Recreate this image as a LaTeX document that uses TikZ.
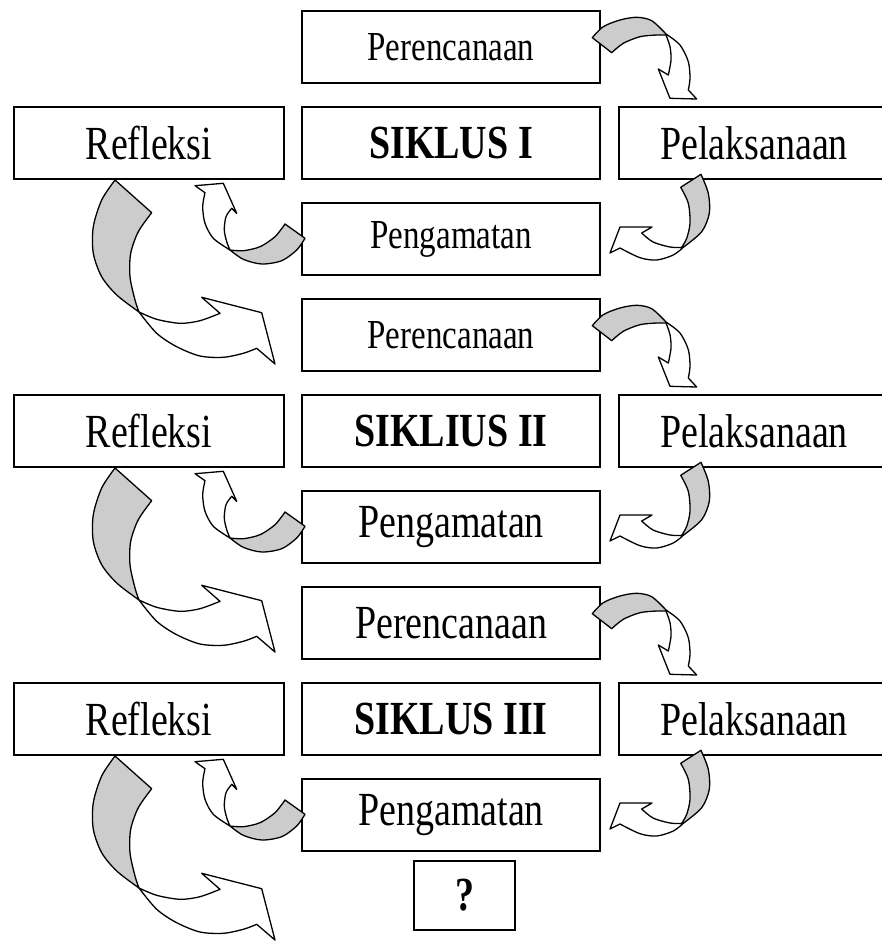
\documentclass[tikz,border=0pt]{standalone}
\usepackage{fontspec}
\setmainfont{Liberation Serif}
\usetikzlibrary{positioning}

\newcommand{\tall}[1]{\scalebox{1}[1.25]{#1}}

\tikzset{
  box/.style={draw, line width=1.6pt, outer sep=0pt, inner sep=0pt,
    minimum width=298pt, minimum height=72pt, font=\fontsize{38}{40}\selectfont},
  sidebox/.style={box, minimum width=270pt},
  smalltxt/.style={font=\fontsize{33}{35}\selectfont},
  back/.style={draw, line width=1.3pt, line join=round, fill=gray!40},
  front/.style={draw, line width=1.3pt, line join=round, fill=white},
}

% curved arrows, drawn round a node anchor
\newcommand{\arrowPerPel}{%
  \path[back] plot[smooth] coordinates {(-7.7,-9.3) (3.3,-20.3) (20,-27) (36.7,-29.7) (51.7,-26.3) (66,-13)}
    -- plot[smooth] coordinates {(66,-12) (56.7,-12) (40,-10.3) (23.3,-3.7) (11.7,5.7)} -- cycle;
  \path[front] plot[smooth] coordinates {(66,-13) (80,-2) (88.3,14.7) (90,31.3) (88.3,43)}
    -- (96.7,52) -- (70,51.3) -- (58.3,22)
    -- plot[smooth] coordinates {(68.3,28) (71,13) (70,-0.3) (66,-12)} -- cycle;
}
\newcommand{\arrowPelPen}{%
  \path[back] (61.7,8.3) -- plot[smooth] coordinates {(82,-4.7) (89.3,14.3) (90.3,34.3) (82.7,52.7) (64.3,68.3)}
    -- plot[smooth] coordinates {(62.7,68.3) (67.7,59.3) (71,44.3) (69.3,24.3) (61.7,8.3)} -- cycle;
  \path[front] plot[smooth] coordinates {(64.3,68.3) (54.3,76) (37.7,81) (21,78.7) (1,69)}
    -- (-9,74) -- (1,48) -- (33,48)
    -- plot[smooth] coordinates {(22.7,54) (34,63) (51,68) (63,68.5)} -- cycle;
}
\newcommand{\arrowPenRef}{%
  \path[back] plot[smooth] coordinates {(3,-0.7) (-5.3,11) (-20.3,21.7) (-40.3,25) (-58.7,20.3) (-72,11)}
    -- plot[smooth] coordinates {(-72,11) (-58.7,11.7) (-42,7.7) (-27,-2.3) (-17,-15)} -- cycle;
  \path[front] plot[smooth] coordinates {(-72,11) (-88.7,-0.7) (-97,-15.7) (-99.3,-32.3) (-97,-46.3)}
    -- (-107,-53.3) -- (-78.7,-55.7) -- (-65.3,-25.7)
    -- plot[smooth] coordinates {(-70.3,-30.7) (-76,-22.3) (-77.7,-9) (-75.3,2.7) (-72,11)} -- cycle;
}
\newcommand{\arrowRefPer}{%
  \path[back] plot[smooth] coordinates {(-34,1) (-47.3,21) (-55.7,47.7) (-55.7,74.3) (-47.3,97.7) (-32.3,116) (-10,133)}
    -- plot[smooth] coordinates {(-10,133) (-14,121) (-19,97.7) (-18.3,74.3) (-10.7,52.7) (2.7,33.7)} -- cycle;
  \path[front] plot[smooth] coordinates {(-10,133) (7.7,154.3) (27.7,167.7) (51,177) (74.3,178.3) (94.3,174.3) (107.7,169.3)}
    -- (126,185) -- (112.7,133.7) -- (52.7,118.3)
    -- plot[smooth] coordinates {(71,134.3) (51,141.7) (31,144.3) (7.7,140.3) (-10,133)} -- cycle;
}

\begin{document}
\begin{tikzpicture}[x=1pt, y=-1pt]
    \useasboundingbox (0,0) rectangle (881,942);
    \node[box] (sik1) at (451,143) {\tall{\textbf{SIKLUS I}}};
    \node[box, smalltxt, above=24pt of sik1] (per1) {\tall{Perencanaan}};
    \node[sidebox, left=18pt of sik1] (ref1) {\tall{Refleksi}};
    \node[sidebox, right=19pt of sik1] (pel1) {\tall{Pelaksanaan}};
    \node[box, smalltxt, below=24pt of sik1] (pen1) {\tall{Pengamatan}};
    \node[box, smalltxt, below=24pt of pen1] (per2) {\tall{Perencanaan}};
    \node[box, below=24pt of per2] (sik2) {\tall{\textbf{SIKLIUS II}}};
    \node[sidebox, left=18pt of sik2] (ref2) {\tall{Refleksi}};
    \node[sidebox, right=19pt of sik2] (pel2) {\tall{Pelaksanaan}};
    \node[box, below=24pt of sik2] (pen2) {\tall{Pengamatan}};
    \node[box, below=24pt of pen2] (per3) {\tall{Perencanaan}};
    \node[box, below=24pt of per3] (sik3) {\tall{\textbf{SIKLUS III}}};
    \node[sidebox, left=18pt of sik3] (ref3) {\tall{Refleksi}};
    \node[sidebox, right=19pt of sik3] (pel3) {\tall{Pelaksanaan}};
    \node[box, below=24pt of sik3] (pen3) {\tall{Pengamatan}};
    \node[box, minimum width=101pt, minimum height=69pt,
      below=10pt of pen3, xshift=13.5pt] (ask) {\tall{\textbf{?}}};
    \foreach \c in {1,2,3} {
      \begin{scope}[shift={(per\c.east)}] \arrowPerPel \end{scope}
      \begin{scope}[shift={(pel\c.south west)}] \arrowPelPen \end{scope}
      \begin{scope}[shift={(pen\c.west)}] \arrowPenRef \end{scope}
      \begin{scope}[shift={(ref\c.south)}] \arrowRefPer \end{scope}
    }
\end{tikzpicture}
\end{document}
